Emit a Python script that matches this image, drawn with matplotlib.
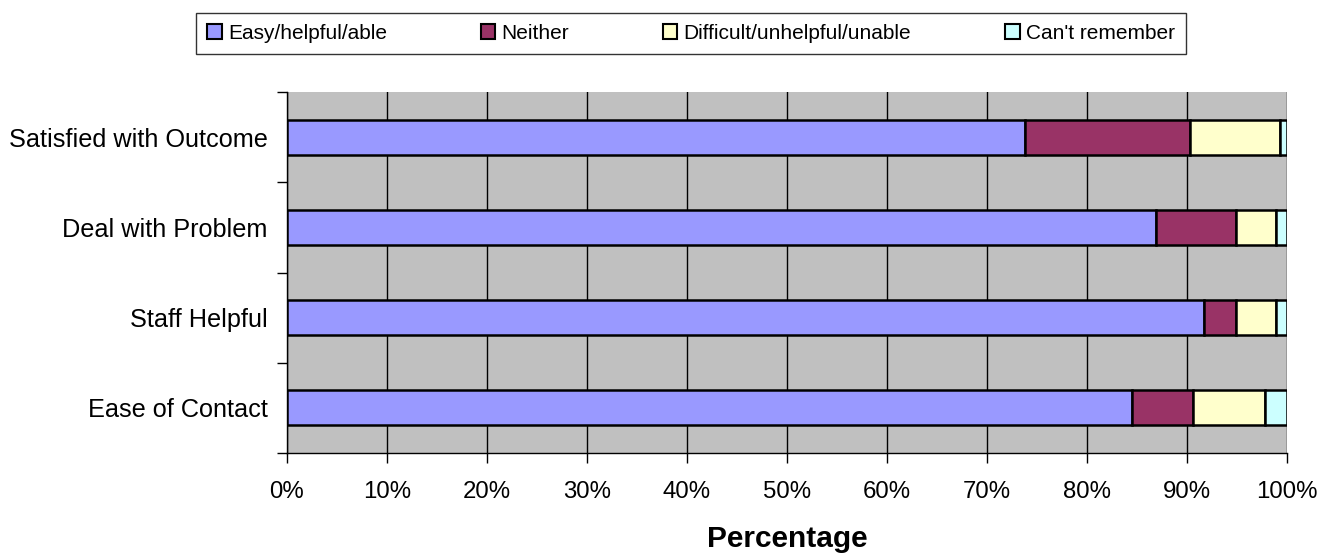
import matplotlib
matplotlib.use("Agg")
import matplotlib.pyplot as plt
import numpy as np
from matplotlib.ticker import FixedLocator, PercentFormatter

plt.rcParams['font.family'] = ['Liberation Sans', 'DejaVu Sans']

# data (bottom to top)
categories = ['Ease of Contact', 'Staff Helpful', 'Deal with Problem', 'Satisfied with Outcome']
series = ['Easy/helpful/able', 'Neither', 'Difficult/unhelpful/unable', "Can't remember"]
easy = [84.5, 91.7, 86.9, 73.8]
neither = [6.1, 3.2, 8.0, 16.5]
difficult = [7.2, 4.0, 4.0, 9.0]
cant_remember = [2.2, 1.1, 1.1, 0.7]
colors = ['#9999FF', '#993366', '#FFFFCC', '#CCFFFF']

fig = plt.figure(figsize=(13.33, 5.55), dpi=100)
ax = fig.add_axes([287 / 1333, 1 - 453 / 555, 1000 / 1333, 361 / 555])
ax.set_facecolor('#C0C0C0')

y = np.arange(len(categories))
left = np.zeros(len(categories))
for name, vals, col in zip(series, [easy, neither, difficult, cant_remember], colors):
    ax.barh(y, vals, left=left, height=0.39, color=col, edgecolor='black',
            linewidth=1.8, label=name, zorder=3)
    left += np.array(vals)

ax.set_xlim(0, 100)
ax.set_ylim(-0.5, len(categories) - 0.5)

ax.set_xticks(np.arange(0, 101, 10))
ax.xaxis.set_major_formatter(PercentFormatter(decimals=0))
ax.xaxis.grid(True, color='black', linewidth=1, zorder=1)
ax.set_axisbelow(True)

# ticks between categories, labels at centres
ax.yaxis.set_major_locator(FixedLocator(np.arange(-0.5, len(categories), 1)))
ax.yaxis.set_major_formatter(plt.NullFormatter())
ax.yaxis.set_minor_locator(FixedLocator(y))
ax.set_yticklabels(categories, minor=True)
ax.tick_params(axis='y', which='major', length=7, width=1)
ax.tick_params(axis='y', which='minor', length=0, pad=14, labelsize=18.2)
ax.tick_params(axis='x', length=7, width=1, pad=13, labelsize=17.3)

for s in ['top', 'right']:
    ax.spines[s].set_visible(False)
for s in ['left', 'bottom']:
    ax.spines[s].set_linewidth(1)

ax.set_xlabel('Percentage', fontsize=21.5, fontweight='bold')
ax.xaxis.set_label_coords(0.5, -0.2)

leg = fig.legend(loc='center', bbox_to_anchor=(691 / 1333, 1 - 33.5 / 555), ncol=4,
                 fontsize=15, frameon=True, fancybox=False, edgecolor='black',
                 handlelength=0.7, handleheight=0.7, handletextpad=0.3,
                 columnspacing=4.5, borderpad=0.55, borderaxespad=0)
leg.get_frame().set_linewidth(1)
for h in leg.legend_handles:
    h.set_linewidth(1.5)

fig.savefig('out.png', dpi=100)
